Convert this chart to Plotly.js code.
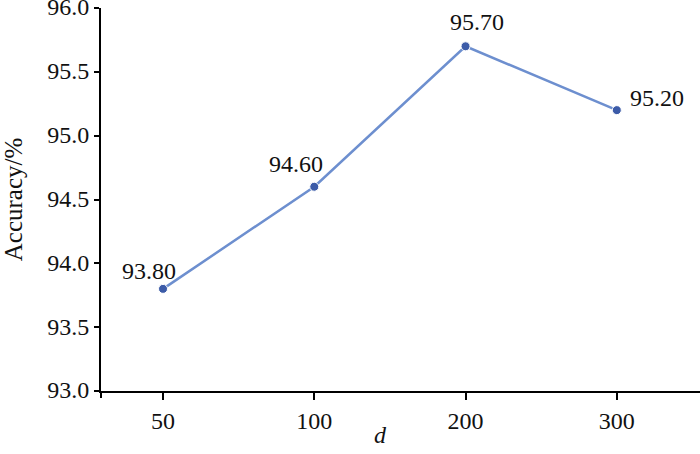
<!DOCTYPE html>
<html>
<head>
<meta charset="utf-8">
<script src="https://cdn.plot.ly/plotly-3.0.1.min.js"></script>
<style>html,body{margin:0;padding:0;background:#fff;}#chart{width:700px;height:454px;}</style>
</head>
<body>
<div id="chart"></div>
<script>
// Data
const categories = ["50", "100", "200", "300"];
const accuracy = [93.80, 94.60, 95.70, 95.20];
const yTicks = [93.0, 93.5, 94.0, 94.5, 95.0, 95.5, 96.0];
const xTitle = "d";
const yTitle = "Accuracy/%";

// Label offsets (style only)
const labelShiftX = [-14, -18, 11, 40];
const labelShiftY = [18, 23, 24, 12];

const fontFam = "Liberation Serif";
const idx = categories.map((c, i) => i);

const trace = {
  x: idx,
  y: accuracy,
  type: "scatter",
  mode: "lines+markers",
  line: {color: "#6d8fcf", width: 2.5},
  marker: {color: "#3c5ba8", size: 9, line: {color: "#ffffff", width: 1}},
  hoverinfo: "skip",
  cliponaxis: false
};

const annots = idx.map(i => ({
  x: i, y: accuracy[i], xref: "x", yref: "y",
  text: accuracy[i].toFixed(2),
  showarrow: false,
  xshift: labelShiftX[i], yshift: labelShiftY[i],
  font: {family: fontFam, size: 24, color: "#111"}
}));
annots.push({
  x: 0.466, y: 0, xref: "paper", yref: "paper",
  yanchor: "middle", yshift: -44,
  text: "<i>" + xTitle + "</i>",
  showarrow: false,
  font: {family: fontFam, size: 24, color: "#111"}
});

const layout = {
  width: 700, height: 454,
  margin: {l: 101, r: 0, t: 8, b: 63, pad: 0},
  paper_bgcolor: "#fff", plot_bgcolor: "#fff",
  showlegend: false,
  font: {family: fontFam, size: 24, color: "#111"},
  xaxis: {
    range: [-0.41, 3.55],
    tickvals: idx,
    ticktext: categories,
    showgrid: false, zeroline: false,
    showline: true, linecolor: "#000", linewidth: 2,
    ticks: "outside", ticklen: 7, tickwidth: 2, tickcolor: "#000",
    tickfont: {family: fontFam, size: 24, color: "#111"}
  },
  yaxis: {
    range: [93, 96],
    tickvals: yTicks,
    ticktext: yTicks.map(v => v.toFixed(1)),
    ticklabeloverflow: "allow",
    ticklabelshift: -1,
    showgrid: false, zeroline: false,
    showline: true, linecolor: "#000", linewidth: 2,
    ticks: "outside", ticklen: 5, tickwidth: 2, tickcolor: "#000",
    tickfont: {family: fontFam, size: 24, color: "#111"},
    title: {text: yTitle, font: {family: fontFam, size: 25, color: "#111"}, standoff: 22}
  },
  shapes: [{
    type: "line", xref: "paper", yref: "paper",
    x0: 0, x1: 0, y0: 0, y1: -0.018,
    line: {color: "#000", width: 2}
  }],
  annotations: annots
};

Plotly.newPlot("chart", [trace], layout, {displayModeBar: false});
</script>
</body>
</html>
